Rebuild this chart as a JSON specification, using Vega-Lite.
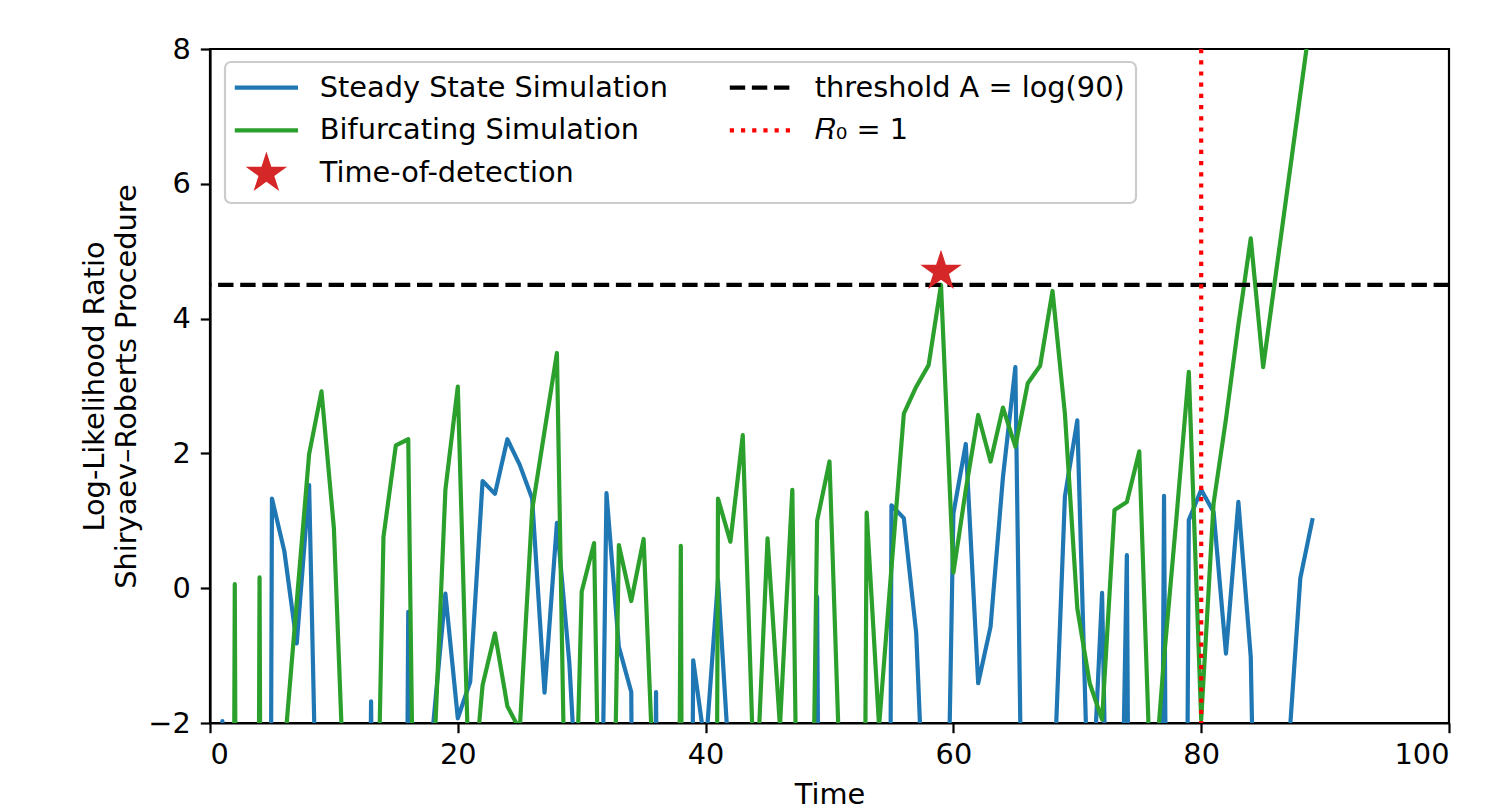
{
  "$schema": "https://vega.github.io/schema/vega-lite/v6.json",
  "width": 1239,
  "height": 674,
  "autosize": "none",
  "padding": {"left": 210, "top": 49, "right": 63, "bottom": 81},
  "background": "white",
  "config": {
    "font": "DejaVu Sans",
    "view": {"stroke": "black", "strokeWidth": 2.2},
    "axis": {
      "grid": false,
      "domainColor": "black",
      "domainWidth": 2.2,
      "tickColor": "black",
      "tickWidth": 2.2,
      "tickSize": 9.7,
      "labelFont": "DejaVu Sans",
      "labelFontSize": 28.8,
      "labelColor": "black",
      "titleFont": "DejaVu Sans",
      "titleFontSize": 28.8,
      "titleFontWeight": "normal",
      "titleColor": "black"
    }
  },
  "datasets": {
    "sim": [
      {"series": "Steady State Simulation", "t": 0, "v": -15},
      {"series": "Steady State Simulation", "t": 1, "v": -1.97},
      {"series": "Steady State Simulation", "t": 2, "v": -15},
      {"series": "Steady State Simulation", "t": 3, "v": -30},
      {"series": "Steady State Simulation", "t": 4, "v": -50},
      {"series": "Steady State Simulation", "t": 5, "v": 1.33},
      {"series": "Steady State Simulation", "t": 6, "v": 0.55},
      {"series": "Steady State Simulation", "t": 7, "v": -0.82},
      {"series": "Steady State Simulation", "t": 8, "v": 1.53},
      {"series": "Steady State Simulation", "t": 9, "v": -7},
      {"series": "Steady State Simulation", "t": 10, "v": -20},
      {"series": "Steady State Simulation", "t": 11, "v": -20},
      {"series": "Steady State Simulation", "t": 12, "v": -20},
      {"series": "Steady State Simulation", "t": 13, "v": -1.68},
      {"series": "Steady State Simulation", "t": 14, "v": -20},
      {"series": "Steady State Simulation", "t": 15, "v": -30},
      {"series": "Steady State Simulation", "t": 16, "v": -0.35},
      {"series": "Steady State Simulation", "t": 17, "v": -30},
      {"series": "Steady State Simulation", "t": 18, "v": -2.05},
      {"series": "Steady State Simulation", "t": 19, "v": -0.08},
      {"series": "Steady State Simulation", "t": 20, "v": -1.93},
      {"series": "Steady State Simulation", "t": 21, "v": -1.39},
      {"series": "Steady State Simulation", "t": 22, "v": 1.59},
      {"series": "Steady State Simulation", "t": 23, "v": 1.4},
      {"series": "Steady State Simulation", "t": 24, "v": 2.21},
      {"series": "Steady State Simulation", "t": 25, "v": 1.83},
      {"series": "Steady State Simulation", "t": 26, "v": 1.33},
      {"series": "Steady State Simulation", "t": 27, "v": -1.55},
      {"series": "Steady State Simulation", "t": 28, "v": 0.97},
      {"series": "Steady State Simulation", "t": 29, "v": -1.1},
      {"series": "Steady State Simulation", "t": 30, "v": -4.4},
      {"series": "Steady State Simulation", "t": 31, "v": -12},
      {"series": "Steady State Simulation", "t": 32, "v": 1.41},
      {"series": "Steady State Simulation", "t": 33, "v": -0.87},
      {"series": "Steady State Simulation", "t": 34, "v": -1.54},
      {"series": "Steady State Simulation", "t": 35, "v": -30},
      {"series": "Steady State Simulation", "t": 36, "v": -1.54},
      {"series": "Steady State Simulation", "t": 37, "v": -30},
      {"series": "Steady State Simulation", "t": 38, "v": -30},
      {"series": "Steady State Simulation", "t": 39, "v": -1.07},
      {"series": "Steady State Simulation", "t": 40, "v": -2.4},
      {"series": "Steady State Simulation", "t": 41, "v": 0.12},
      {"series": "Steady State Simulation", "t": 42, "v": -2.9},
      {"series": "Steady State Simulation", "t": 43, "v": -20},
      {"series": "Steady State Simulation", "t": 44, "v": -20},
      {"series": "Steady State Simulation", "t": 45, "v": -20},
      {"series": "Steady State Simulation", "t": 46, "v": -20},
      {"series": "Steady State Simulation", "t": 47, "v": -20},
      {"series": "Steady State Simulation", "t": 48, "v": -30},
      {"series": "Steady State Simulation", "t": 49, "v": -0.13},
      {"series": "Steady State Simulation", "t": 50, "v": -30},
      {"series": "Steady State Simulation", "t": 51, "v": -20},
      {"series": "Steady State Simulation", "t": 52, "v": -20},
      {"series": "Steady State Simulation", "t": 53, "v": -20},
      {"series": "Steady State Simulation", "t": 54, "v": -50},
      {"series": "Steady State Simulation", "t": 55, "v": 1.23},
      {"series": "Steady State Simulation", "t": 56, "v": 1.04},
      {"series": "Steady State Simulation", "t": 57, "v": -0.67},
      {"series": "Steady State Simulation", "t": 58, "v": -5.1},
      {"series": "Steady State Simulation", "t": 59, "v": -9.3},
      {"series": "Steady State Simulation", "t": 60, "v": 1.11},
      {"series": "Steady State Simulation", "t": 61, "v": 2.14},
      {"series": "Steady State Simulation", "t": 62, "v": -1.41},
      {"series": "Steady State Simulation", "t": 63, "v": -0.57},
      {"series": "Steady State Simulation", "t": 64, "v": 1.65},
      {"series": "Steady State Simulation", "t": 65, "v": 3.28},
      {"series": "Steady State Simulation", "t": 66, "v": -9.9},
      {"series": "Steady State Simulation", "t": 67, "v": -20},
      {"series": "Steady State Simulation", "t": 68, "v": -3.44},
      {"series": "Steady State Simulation", "t": 69, "v": 1.36},
      {"series": "Steady State Simulation", "t": 70, "v": 2.49},
      {"series": "Steady State Simulation", "t": 71, "v": -4},
      {"series": "Steady State Simulation", "t": 72, "v": -0.07},
      {"series": "Steady State Simulation", "t": 73, "v": -10},
      {"series": "Steady State Simulation", "t": 74, "v": 0.49},
      {"series": "Steady State Simulation", "t": 75, "v": -30},
      {"series": "Steady State Simulation", "t": 76, "v": -30},
      {"series": "Steady State Simulation", "t": 77, "v": 1.37},
      {"series": "Steady State Simulation", "t": 78, "v": -30},
      {"series": "Steady State Simulation", "t": 79, "v": 1.01},
      {"series": "Steady State Simulation", "t": 80, "v": 1.46},
      {"series": "Steady State Simulation", "t": 81, "v": 1.13},
      {"series": "Steady State Simulation", "t": 82, "v": -0.97},
      {"series": "Steady State Simulation", "t": 83, "v": 1.28},
      {"series": "Steady State Simulation", "t": 84, "v": -1.02},
      {"series": "Steady State Simulation", "t": 85, "v": -10.8},
      {"series": "Steady State Simulation", "t": 86, "v": -20},
      {"series": "Steady State Simulation", "t": 87, "v": -2.54},
      {"series": "Steady State Simulation", "t": 88, "v": 0.15},
      {"series": "Steady State Simulation", "t": 89, "v": 1.04},
      {"series": "Bifurcating Simulation", "t": 0, "v": -50},
      {"series": "Bifurcating Simulation", "t": 1, "v": -50},
      {"series": "Bifurcating Simulation", "t": 2, "v": 0.06},
      {"series": "Bifurcating Simulation", "t": 3, "v": -50},
      {"series": "Bifurcating Simulation", "t": 4, "v": 0.16},
      {"series": "Bifurcating Simulation", "t": 5, "v": -50},
      {"series": "Bifurcating Simulation", "t": 6, "v": -2.42},
      {"series": "Bifurcating Simulation", "t": 7, "v": -0.21},
      {"series": "Bifurcating Simulation", "t": 8, "v": 1.99},
      {"series": "Bifurcating Simulation", "t": 9, "v": 2.92},
      {"series": "Bifurcating Simulation", "t": 10, "v": 0.89},
      {"series": "Bifurcating Simulation", "t": 11, "v": -3.9},
      {"series": "Bifurcating Simulation", "t": 12, "v": -30},
      {"series": "Bifurcating Simulation", "t": 13, "v": -8.4},
      {"series": "Bifurcating Simulation", "t": 14, "v": 0.76},
      {"series": "Bifurcating Simulation", "t": 15, "v": 2.12},
      {"series": "Bifurcating Simulation", "t": 16, "v": 2.21},
      {"series": "Bifurcating Simulation", "t": 17, "v": -11.8},
      {"series": "Bifurcating Simulation", "t": 18, "v": -2.87},
      {"series": "Bifurcating Simulation", "t": 19, "v": 1.46},
      {"series": "Bifurcating Simulation", "t": 20, "v": 2.99},
      {"series": "Bifurcating Simulation", "t": 21, "v": -3.5},
      {"series": "Bifurcating Simulation", "t": 22, "v": -1.44},
      {"series": "Bifurcating Simulation", "t": 23, "v": -0.67},
      {"series": "Bifurcating Simulation", "t": 24, "v": -1.75},
      {"series": "Bifurcating Simulation", "t": 25, "v": -2.1},
      {"series": "Bifurcating Simulation", "t": 26, "v": 1.16},
      {"series": "Bifurcating Simulation", "t": 27, "v": 2.33},
      {"series": "Bifurcating Simulation", "t": 28, "v": 3.49},
      {"series": "Bifurcating Simulation", "t": 29, "v": -7},
      {"series": "Bifurcating Simulation", "t": 30, "v": -0.05},
      {"series": "Bifurcating Simulation", "t": 31, "v": 0.67},
      {"series": "Bifurcating Simulation", "t": 32, "v": -10},
      {"series": "Bifurcating Simulation", "t": 33, "v": 0.64},
      {"series": "Bifurcating Simulation", "t": 34, "v": -0.19},
      {"series": "Bifurcating Simulation", "t": 35, "v": 0.73},
      {"series": "Bifurcating Simulation", "t": 36, "v": -3.8},
      {"series": "Bifurcating Simulation", "t": 37, "v": -30},
      {"series": "Bifurcating Simulation", "t": 38, "v": 0.63},
      {"series": "Bifurcating Simulation", "t": 39, "v": -50},
      {"series": "Bifurcating Simulation", "t": 40, "v": -50},
      {"series": "Bifurcating Simulation", "t": 41, "v": 1.33},
      {"series": "Bifurcating Simulation", "t": 42, "v": 0.69},
      {"series": "Bifurcating Simulation", "t": 43, "v": 2.27},
      {"series": "Bifurcating Simulation", "t": 44, "v": -3.4},
      {"series": "Bifurcating Simulation", "t": 45, "v": 0.74},
      {"series": "Bifurcating Simulation", "t": 46, "v": -2.05},
      {"series": "Bifurcating Simulation", "t": 47, "v": 1.46},
      {"series": "Bifurcating Simulation", "t": 48, "v": -12},
      {"series": "Bifurcating Simulation", "t": 49, "v": 1.0},
      {"series": "Bifurcating Simulation", "t": 50, "v": 1.88},
      {"series": "Bifurcating Simulation", "t": 51, "v": -3.66},
      {"series": "Bifurcating Simulation", "t": 52, "v": -30},
      {"series": "Bifurcating Simulation", "t": 53, "v": 1.12},
      {"series": "Bifurcating Simulation", "t": 54, "v": -2.05},
      {"series": "Bifurcating Simulation", "t": 55, "v": 0.3},
      {"series": "Bifurcating Simulation", "t": 56, "v": 2.59},
      {"series": "Bifurcating Simulation", "t": 57, "v": 2.99},
      {"series": "Bifurcating Simulation", "t": 58, "v": 3.31},
      {"series": "Bifurcating Simulation", "t": 59, "v": 4.5},
      {"series": "Bifurcating Simulation", "t": 60, "v": 0.23},
      {"series": "Bifurcating Simulation", "t": 61, "v": 1.46},
      {"series": "Bifurcating Simulation", "t": 62, "v": 2.57},
      {"series": "Bifurcating Simulation", "t": 63, "v": 1.88},
      {"series": "Bifurcating Simulation", "t": 64, "v": 2.68},
      {"series": "Bifurcating Simulation", "t": 65, "v": 2.1},
      {"series": "Bifurcating Simulation", "t": 66, "v": 3.04},
      {"series": "Bifurcating Simulation", "t": 67, "v": 3.3},
      {"series": "Bifurcating Simulation", "t": 68, "v": 4.41},
      {"series": "Bifurcating Simulation", "t": 69, "v": 2.59},
      {"series": "Bifurcating Simulation", "t": 70, "v": -0.3},
      {"series": "Bifurcating Simulation", "t": 71, "v": -1.41},
      {"series": "Bifurcating Simulation", "t": 72, "v": -1.95},
      {"series": "Bifurcating Simulation", "t": 73, "v": 1.16},
      {"series": "Bifurcating Simulation", "t": 74, "v": 1.28},
      {"series": "Bifurcating Simulation", "t": 75, "v": 2.03},
      {"series": "Bifurcating Simulation", "t": 76, "v": -3.4},
      {"series": "Bifurcating Simulation", "t": 77, "v": -1.04},
      {"series": "Bifurcating Simulation", "t": 78, "v": 1.04},
      {"series": "Bifurcating Simulation", "t": 79, "v": 3.21},
      {"series": "Bifurcating Simulation", "t": 80, "v": -1.95},
      {"series": "Bifurcating Simulation", "t": 81, "v": 1.26},
      {"series": "Bifurcating Simulation", "t": 82, "v": 2.51},
      {"series": "Bifurcating Simulation", "t": 83, "v": 3.91},
      {"series": "Bifurcating Simulation", "t": 84, "v": 5.19},
      {"series": "Bifurcating Simulation", "t": 85, "v": 3.28},
      {"series": "Bifurcating Simulation", "t": 86, "v": 4.63},
      {"series": "Bifurcating Simulation", "t": 87, "v": 5.98},
      {"series": "Bifurcating Simulation", "t": 88, "v": 7.33},
      {"series": "Bifurcating Simulation", "t": 89, "v": 8.68}
    ],
    "threshold": [{"series": "threshold A = log(90)", "y": 4.4998}],
    "r0": [{"series": "𝑅₀ = 1", "x": 80}],
    "detect": [{"series": "Time-of-detection", "t": 59, "v": 4.7}]
  },
  "layer": [
    {
      "data": {"name": "sim"},
      "transform": [{"filter": "datum.series === 'Steady State Simulation'"}],
      "mark": {"type": "line", "strokeWidth": 4.2, "clip": true, "strokeCap": "butt", "strokeJoin": "round"},
      "encoding": {
        "x": {
          "field": "t", "type": "quantitative",
          "scale": {"domain": [0, 100], "nice": false, "zero": false},
          "axis": {"values": [0, 20, 40, 60, 80, 100], "format": "d", "title": "Time", "labelPadding": 8, "titlePadding": 11}
        },
        "y": {
          "field": "v", "type": "quantitative",
          "scale": {"domain": [-2, 8], "nice": false, "zero": false},
          "axis": {"values": [-2, 0, 2, 4, 6, 8], "format": "d", "title": ["Log-Likelihood Ratio", "Shiryaev–Roberts Procedure"], "labelPadding": 10, "titlePadding": 6, "titleLineHeight": 32}
        },
        "color": {
          "field": "series", "type": "nominal",
          "scale": {
            "domain": ["Steady State Simulation", "Bifurcating Simulation", "Time-of-detection", "threshold A = log(90)", "𝑅₀ = 1"],
            "range": ["#1f77b4", "#2ca02c", "#d62728", "#000000", "#ff0000"]
          },
          "legend": {
            "title": null,
            "orient": "none",
            "legendX": 15,
            "legendY": 13,
            "columns": 2,
            "columnPadding": 53,
            "rowPadding": 0,
            "padding": 11,
            "labelFont": "DejaVu Sans",
            "labelFontSize": 28.8,
            "labelColor": "black",
            "labelLimit": 1000,
            "labelOffset": 39,
            "symbolOffset": 16,
            "symbolSize": 4000,
            "symbolStrokeWidth": 4.2,
            "strokeColor": "#cccccc",
            "fillColor": "rgba(255,255,255,0.8)",
            "cornerRadius": 6,
            "encode": {
              "legend": {"update": {"strokeWidth": {"value": 2.2}}},
              "symbols": {
                "update": {
                  "shape": {"signal": "datum.value === 'Time-of-detection' ? 'M0,-1L0.2245,-0.309L0.951,-0.309L0.3633,0.118L0.588,0.809L0,0.382L-0.588,0.809L-0.3633,0.118L-0.951,-0.309L-0.2245,-0.309Z' : ((datum.value === 'Steady State Simulation' || datum.value === 'threshold A = log(90)') ? 'M-1,0L1,0M0,-0.2M0,0.408' : 'M-1,0L1,0M0,-0.408M0,0.383')"},
                  "size": {"signal": "datum.value === 'Time-of-detection' ? 1900 : 4000"},
                  "fill": {"signal": "datum.value === 'Time-of-detection' ? '#d62728' : 'transparent'"},
                  "stroke": {"scale": "color", "field": "value"},
                  "strokeWidth": {"signal": "datum.value === 'Time-of-detection' ? 0 : 4.2"},
                  "strokeDash": {"signal": "datum.value === 'threshold A = log(90)' ? [15.4, 6.7] : (indexof(datum.value, '= 1') > 0 ? [4.2, 7] : [1, 0])"},
                  "opacity": {"value": 1}
                }
              }
            }
          }
        }
      }
    },
    {
      "data": {"name": "sim"},
      "transform": [{"filter": "datum.series === 'Bifurcating Simulation'"}],
      "mark": {"type": "line", "strokeWidth": 4.2, "clip": true, "strokeCap": "butt", "strokeJoin": "round"},
      "encoding": {
        "x": {"field": "t", "type": "quantitative"},
        "y": {"field": "v", "type": "quantitative"},
        "color": {"field": "series", "type": "nominal"}
      }
    },
    {
      "data": {"name": "threshold"},
      "mark": {"type": "rule", "strokeWidth": 4.2, "strokeDash": [15.4, 6.7], "strokeCap": "butt"},
      "encoding": {
        "y": {"field": "y", "type": "quantitative"},
        "color": {"field": "series", "type": "nominal"}
      }
    },
    {
      "data": {"name": "r0"},
      "mark": {"type": "rule", "strokeWidth": 4.2, "strokeDash": [4.2, 7], "strokeCap": "butt"},
      "encoding": {
        "x": {"field": "x", "type": "quantitative"},
        "color": {"field": "series", "type": "nominal"}
      }
    },
    {
      "data": {"name": "detect"},
      "mark": {"type": "point", "filled": true, "opacity": 1, "size": 1900, "strokeWidth": 0, "shape": "M0,-1L0.2245,-0.309L0.951,-0.309L0.3633,0.118L0.588,0.809L0,0.382L-0.588,0.809L-0.3633,0.118L-0.951,-0.309L-0.2245,-0.309Z"},
      "encoding": {
        "x": {"field": "t", "type": "quantitative"},
        "y": {"field": "v", "type": "quantitative"},
        "color": {"field": "series", "type": "nominal"}
      }
    }
  ]
}
